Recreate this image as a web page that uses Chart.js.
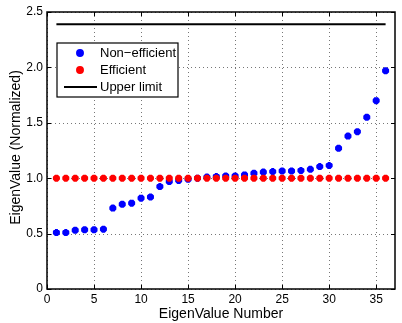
<!DOCTYPE html>
<html>
<head>
<meta charset="utf-8">
<script src="https://cdn.jsdelivr.net/npm/chart.js@4"></script>
<style>
  html, body { margin: 0; padding: 0; background: #fff; }
  #wrap { width: 402px; height: 323px; }
</style>
</head>
<body>
<div id="wrap"><canvas id="eig_chart" width="402" height="323"></canvas></div>
<script>
// eigenvalue index 1..36
const eigIndex = [1,2,3,4,5,6,7,8,9,10,11,12,13,14,15,16,17,18,19,20,21,22,23,24,25,26,27,28,29,30,31,32,33,34,35,36];
const nonEfficient = [0.51,0.51,0.53,0.535,0.535,0.54,0.73,0.765,0.775,0.82,0.83,0.925,0.97,0.98,0.99,1.0,1.01,1.015,1.02,1.02,1.03,1.045,1.055,1.06,1.065,1.065,1.07,1.08,1.105,1.115,1.27,1.38,1.42,1.55,1.70,1.97];
const efficient = [1,1,1,1,1,1,1,1,1,1,1,1,1,1,1,1,1,1,1,1,1,1,1,1,1,1,1,1,1,1,1,1,1,1,1,1];
const upperLimit = 2.39;
const limitRange = [1, 36];
const xTicks = [0, 5, 10, 15, 20, 25, 30, 35];
const yTicks = [0, 0.5, 1, 1.5, 2, 2.5];
const seriesNames = ['Non\u2212efficient', 'Efficient', 'Upper limit'];
const yTitle = 'EigenValue (Normalized)';

const FONT = '"Liberation Sans", Arial, Helvetica, sans-serif';

const toPoints = (xs, ys) => xs.map((x, i) => ({ x: x, y: ys[i] }));

// dotted grid drawn under the data (MATLAB "grid on")
const grid_plugin = {
    id: 'dotgrid',
    beforeDatasetsDraw(chart) {
        const ctx = chart.ctx;
        const a = chart.chartArea;
        const xs = chart.scales.x, ys = chart.scales.y;
        ctx.save();
        ctx.strokeStyle = '#777';
        ctx.lineWidth = 1;
        ctx.setLineDash([1, 3]);
        ctx.beginPath();
        xTicks.forEach(t => {
            const px = Math.round(xs.getPixelForValue(t)) + 0.5;
            ctx.moveTo(px, a.bottom); ctx.lineTo(px, a.top);
        });
        yTicks.forEach(t => {
            const py = Math.round(ys.getPixelForValue(t)) + 0.5;
            ctx.moveTo(a.left, py); ctx.lineTo(a.right, py);
        });
        ctx.stroke();
        ctx.restore();
    }
};

// MATLAB style frame, inward ticks, y title and legend box
const frame_plugin = {
    id: 'frame',
    afterDraw(chart) {
        const ctx = chart.ctx;
        const a = chart.chartArea;
        const xs = chart.scales.x, ys = chart.scales.y;
        ctx.save();
        ctx.strokeStyle = '#000';
        ctx.lineWidth = 1;
        ctx.beginPath();
        xTicks.forEach(t => {
            const px = Math.round(xs.getPixelForValue(t)) + 0.5;
            ctx.moveTo(px, a.bottom); ctx.lineTo(px, a.bottom - 4);
            ctx.moveTo(px, a.top); ctx.lineTo(px, a.top + 4);
        });
        yTicks.forEach(t => {
            const py = Math.round(ys.getPixelForValue(t)) + 0.5;
            ctx.moveTo(a.left, py); ctx.lineTo(a.left + 4, py);
            ctx.moveTo(a.right, py); ctx.lineTo(a.right - 4, py);
        });
        ctx.stroke();
        ctx.lineWidth = 1.5;
        ctx.strokeRect(a.left, a.top, a.right - a.left, a.bottom - a.top);

        // y axis title
        ctx.save();
        ctx.translate(16, (a.top + a.bottom) / 2 - 3);
        ctx.rotate(-Math.PI / 2);
        ctx.font = '14px ' + FONT;
        ctx.fillStyle = '#000';
        ctx.textAlign = 'center';
        ctx.textBaseline = 'middle';
        ctx.fillText(yTitle, 0, 0);
        ctx.restore();

        // legend
        const lx = 57, ly = 43, lw = 121, lh = 54;
        ctx.fillStyle = '#fff';
        ctx.fillRect(lx, ly, lw, lh);
        ctx.lineWidth = 1.2;
        ctx.strokeRect(lx, ly, lw, lh);
        ctx.font = '13px ' + FONT;
        ctx.textBaseline = 'middle';
        ctx.textAlign = 'left';
        const rows = [ly + 10, ly + 27, ly + 44];
        const markerColors = ['#0000ff', '#ff0000'];
        markerColors.forEach((c, i) => {
            ctx.fillStyle = c;
            ctx.strokeStyle = c;
            ctx.beginPath();
            ctx.arc(80, rows[i], 3.2, 0, Math.PI * 2);
            ctx.fill();
            ctx.lineWidth = 1.5;
            ctx.stroke();
        });
        ctx.strokeStyle = '#000';
        ctx.lineWidth = 2;
        ctx.beginPath();
        ctx.moveTo(64, rows[2]); ctx.lineTo(97, rows[2]);
        ctx.stroke();
        ctx.fillStyle = '#000';
        seriesNames.forEach((n, i) => ctx.fillText(n, 100, rows[i] + 0.5));
        ctx.restore();
    }
};

const config = {
    type: 'scatter',
    data: {
        datasets: [
            {
                label: seriesNames[1],
                data: toPoints(eigIndex, efficient),
                backgroundColor: '#ff0000',
                borderColor: '#ff0000',
                pointStyle: 'star',
                pointRadius: 3.5,
                borderWidth: 3,
                order: 1
            },
            {
                label: seriesNames[0],
                data: toPoints(eigIndex, nonEfficient),
                backgroundColor: '#0000ff',
                borderColor: '#0000ff',
                pointStyle: 'star',
                pointRadius: 3.5,
                borderWidth: 3,
                order: 2
            },
            {
                label: seriesNames[2],
                type: 'line',
                data: toPoints(limitRange, [upperLimit, upperLimit]),
                borderColor: '#000',
                borderWidth: 2,
                pointRadius: 0,
                fill: false,
                order: 0
            }
        ]
    },
    options: {
        responsive: false,
        animation: false,
        layout: { padding: { top: 12, right: 1, left: 0, bottom: 0 } },
        plugins: {
            legend: { display: false },
            tooltip: { enabled: false }
        },
        scales: {
            x: {
                type: 'linear',
                min: 0,
                max: 37,
                afterFit: s => { s.height = 34; },
                afterBuildTicks: s => { s.ticks = xTicks.map(v => ({ value: v })); },
                ticks: { color: '#000', padding: 3, maxRotation: 0, font: { family: FONT, size: 12 } },
                grid: { display: false, drawTicks: false },
                border: { display: false },
                title: {
                    display: true,
                    text: 'EigenValue Number',
                    color: '#000',
                    font: { family: FONT, size: 14 },
                    padding: { top: 0, bottom: 0 }
                }
            },
            y: {
                min: 0,
                max: 2.5,
                afterFit: s => { s.width = 47; },
                afterBuildTicks: s => { s.ticks = yTicks.map(v => ({ value: v })); },
                ticks: { color: '#000', padding: 4, font: { family: FONT, size: 12 } },
                grid: { display: false, drawTicks: false },
                border: { display: false },
                title: { display: false }
            }
        }
    },
    plugins: [grid_plugin, frame_plugin]
};

new Chart(document.getElementById('eig_chart'), config);
</script>
</body>
</html>
